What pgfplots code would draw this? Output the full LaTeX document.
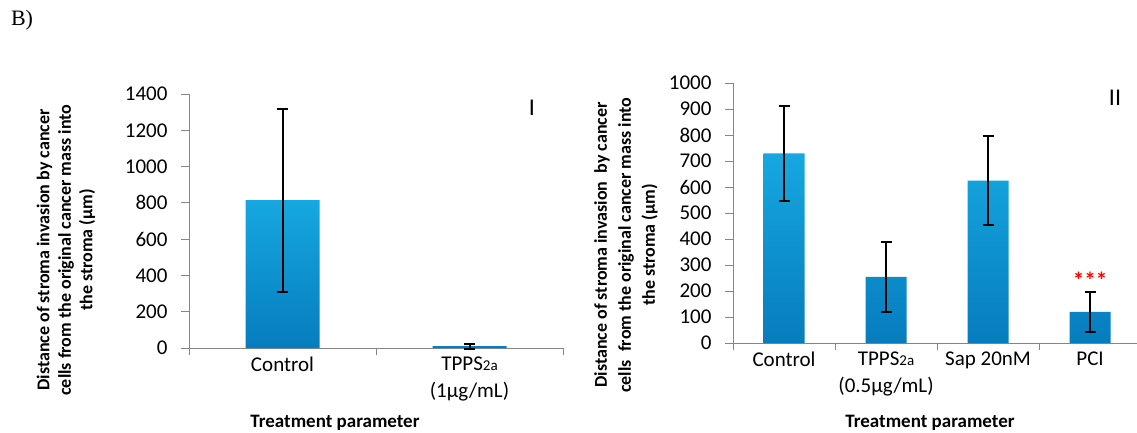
\documentclass[border=0pt]{standalone}
\usepackage{pgfplots}
\pgfplotsset{compat=1.18}
\usepackage{fontspec}
\setmainfont{Carlito}
\newfontfamily\seriffont{Liberation Serif}
\definecolor{axgray}{RGB}{134,134,134}
\definecolor{bartop}{RGB}{22,168,224}
\definecolor{barbot}{RGB}{6,124,190}
\pgfplotsset{
  mybars/.style={
    scale only axis,
    axis x line=bottom, axis y line=left,
    axis line style={-, draw=axgray, line width=1pt},
    tick align=outside,
    major tick length=8pt,
    minor tick length=7pt,
    every major y tick/.style={axgray, line width=1pt},
    every major x tick/.style={draw=none},
    every minor x tick/.style={axgray, line width=1pt},
    ymin=0, xmin=-0.5,
    ticklabel style={font=\fontsize{21}{27}\selectfont},
    yticklabel style={xshift=-10pt},
    xticklabel style={align=center, yshift=3pt},
    /pgf/number format/assume math mode=true,
    /pgf/number format/1000 sep={},
    clip=false,
  },
  mybarplot/.style={
    ybar, draw=none, top color=bartop, bottom color=barbot,
    error bars/.cd, y dir=both, y explicit,
    error bar style={black, line width=2pt},
    error mark options={rotate=90, mark size=5.5pt, black, line width=2pt},
  },
}
\begin{document}
\begin{tikzpicture}
\useasboundingbox (0pt,0pt) rectangle (1137pt,-432pt);
% Panel I
\begin{axis}[mybars,
  at={(189pt,-348pt)}, anchor=south west,
  width=374pt, height=254pt,
  xmax=1.5, ymax=1400,
  ytick={0,200,...,1400},
  xtick={0,1}, xticklabels={Control, TPPS{\fontsize{15}{17}\selectfont 2a}\\(1μg/mL)},
  minor xtick={-0.5,0.5,1.5},
]
\addplot[bar width=74pt, mybarplot] coordinates {(0,815) +- (0,505) (1,10) +- (0,14)};
\end{axis}
% Panel II
\begin{axis}[mybars,
  at={(733pt,-343pt)}, anchor=south west,
  width=404pt, height=260pt,
  xmax=3.46, ymax=1000,
  ytick={0,100,...,1000},
  xtick={0,1,2,3}, xticklabels={Control, TPPS{\fontsize{15}{17}\selectfont 2a}\\(0.5μg/mL), Sap 20nM, PCI},
  minor xtick={-0.5,0.5,1.5,2.5},
]
\addplot[bar width=41pt, mybarplot] coordinates {(0,729) +- (0,182) (1,254) +- (0,135) (2,625) +- (0,173) (3,120) +- (0,76)};
\node[text=red, font=\fontsize{23}{25}\selectfont\bfseries] at (axis cs:3,240) {***};
\end{axis}
% Texts
\node[font=\seriffont\fontsize{22}{24}\selectfont] at (22pt,-20pt) {B)};
\node[font=\fontsize{24}{26}\selectfont] at (532pt,-108pt) {I};
\node[font=\fontsize{24}{26}\selectfont] at (1115pt,-98pt) {II};
\node[rotate=90, align=center, font=\fontsize{18}{21.5}\selectfont\bfseries] at (66pt,-250pt)
  {Distance of stroma invasion by cancer\\cells from the original cancer mass into\\the stroma (μm)};
\node[rotate=90, align=center, font=\fontsize{18}{24}\selectfont\bfseries] at (626pt,-245pt)
  {Distance of stroma invasion\ \ by cancer\\cells\ \ from the original cancer mass into\\the stroma (μm)};
\node[font=\fontsize{19}{21}\selectfont\bfseries] at (335pt,-423pt) {Treatment parameter};
\node[font=\fontsize{19}{21}\selectfont\bfseries] at (930pt,-423pt) {Treatment parameter};
\end{tikzpicture}
\end{document}
